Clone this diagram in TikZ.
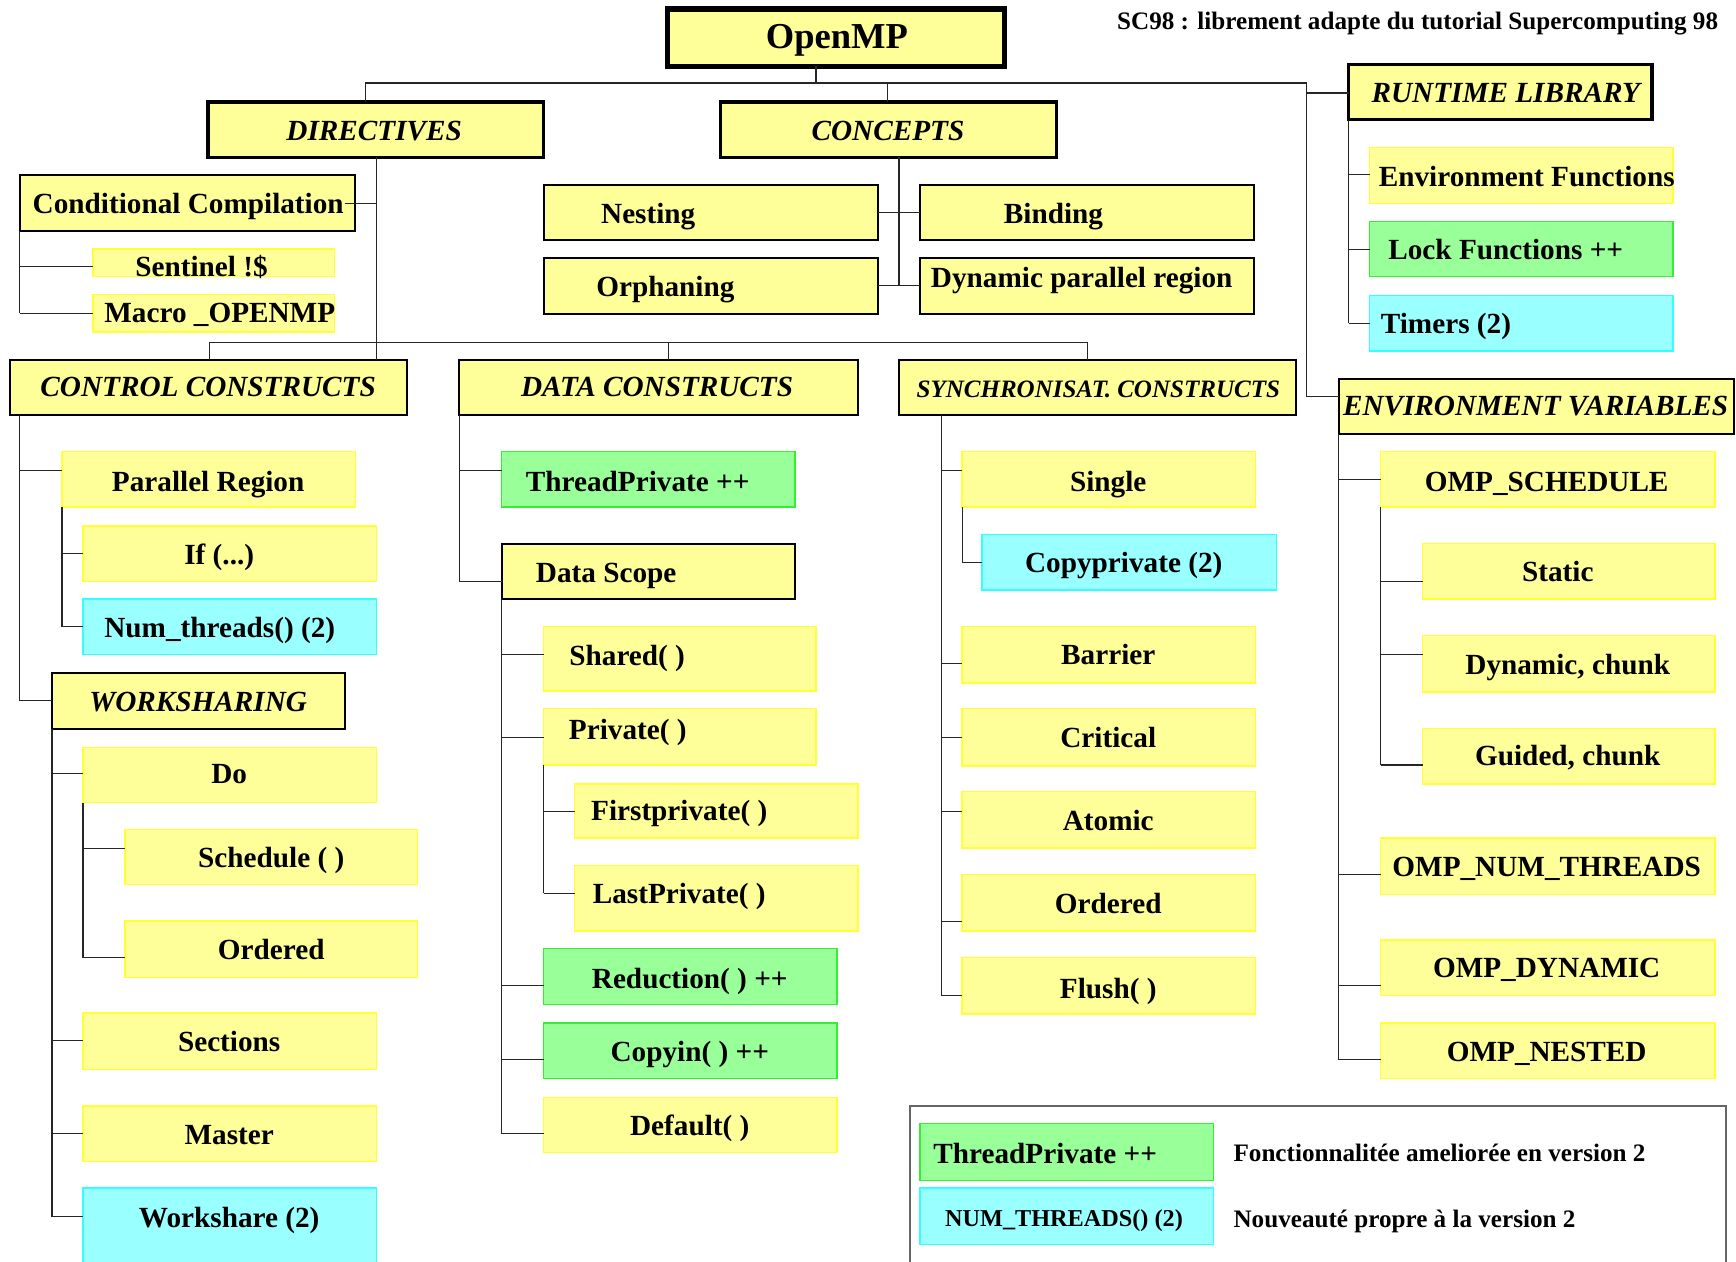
\documentclass[tikz,border=0pt]{standalone}
\usepackage{fontspec}
\setmainfont{Liberation Serif}

\definecolor{yfill}{HTML}{FFFF99}
\definecolor{yline}{HTML}{FFFF33}
\definecolor{gfill}{HTML}{99FF99}
\definecolor{gline}{HTML}{33EE33}
\definecolor{cfill}{HTML}{99FFFF}
\definecolor{cline}{HTML}{33FFFF}
\definecolor{frameline}{HTML}{666666}

% box: name, style, x1, y1, x2, y2
\newcommand\bx[6]{\node[#2, minimum width={(#5)-(#3)}, minimum height={(#6)-(#4)}] (#1) at ({((#3)+(#5))/2},{((#4)+(#6))/2}) {};}
% text: name, style, x, y, text
\newcommand\tx[5]{\node[#2] (#1) at (#3,#4) {#5};}
% vertical spine below a parent: x coordinate, parent node, bottom y
\newcommand\spine[3]{\draw[conn] (#1 |- #2.south) -- (#1 |- 0,#3);}
% horizontal branch from a spine to a child: x coordinate, child node, y
\newcommand\branch[3]{\draw[conn] (#1 |- 0,#3) -- (#2.west |- 0,#3);}

\begin{document}
\begin{tikzpicture}[x=1pt,y=-1pt,
  plain/.style={rectangle, inner sep=0pt, outer sep=0pt},
  ybox/.style={plain, fill=yfill, draw=yline, line width=1.2pt},
  gbox/.style={plain, fill=gfill, draw=gline, line width=1.2pt},
  cbox/.style={plain, fill=cfill, draw=cline, line width=1.2pt},
  bbox/.style={plain, fill=yfill, draw=black, line width=1.8pt},
  hbox/.style={plain, fill=yfill, draw=black, line width=3pt},
  topbox/.style={plain, fill=yfill, draw=black, line width=4.8pt},
  txt/.style={inner sep=0pt, font=\fontsize{26.4}{28}\selectfont\bfseries, text height=17pt, text depth=0pt},
  hd/.style={txt, font=\fontsize{26.4}{28}\selectfont\bfseries\itshape},
  hds/.style={inner sep=0pt, font=\fontsize{22.6}{24}\selectfont\bfseries\itshape, text height=14.6pt, text depth=0pt},
  ttl/.style={inner sep=0pt, font=\fontsize{33}{36}\selectfont\bfseries, text height=21.8pt, text depth=0pt},
  note/.style={inner sep=0pt, font=\fontsize{22.7}{24}\selectfont\bfseries, text height=14.7pt, text depth=0pt},
  small/.style={inner sep=0pt, font=\fontsize{21.9}{23}\selectfont\bfseries, text height=14.2pt, text depth=0pt},
  conn/.style={line width=1pt, draw=black!85},
]
\useasboundingbox[fill=white] (0,0) rectangle (1568,1139);

% ---------------- boxes ----------------
\bx{omp}{topbox}{603}{8}{907}{60}
\bx{dir}{hbox}{188}{92}{491}{142}
\bx{con}{hbox}{651}{92}{954}{142}
\bx{rtl}{hbox}{1218}{58}{1492}{108}

\bx{cc}{bbox}{18}{158}{321}{209}
\bx{sent}{ybox}{84}{225}{302}{250}
\bx{macro}{ybox}{84}{266}{302}{300}

\bx{nest}{bbox}{491}{167}{793}{217}
\bx{orph}{bbox}{491}{233}{793}{284}
\bx{bind}{bbox}{831}{167}{1133}{217}
\bx{dpr}{bbox}{831}{233}{1133}{284}

\bx{envf}{ybox}{1237}{133}{1511}{184}
\bx{lock}{gbox}{1237}{200}{1511}{250}
\bx{tim}{cbox}{1237}{267}{1511}{317}

\bx{ctl}{bbox}{9}{325}{368}{375}
\bx{dat}{bbox}{415}{325}{775}{375}
\bx{syn}{bbox}{812}{325}{1171}{375}
\bx{evar}{bbox}{1209}{342}{1566}{392}

% control constructs
\bx{par}{ybox}{56}{408}{321}{458}
\bx{if}{ybox}{75}{475}{340}{525}
\bx{numt}{cbox}{75}{541}{340}{591}
\bx{ws}{bbox}{47}{608}{312}{658}
\bx{do}{ybox}{75}{675}{340}{725}
\bx{sched}{ybox}{113}{749}{377}{799}
\bx{ordA}{ybox}{113}{832}{377}{883}
\bx{sect}{ybox}{75}{915}{340}{966}
\bx{mast}{ybox}{75}{999}{340}{1049}
\bx{wsh}{cbox}{75}{1073}{340}{1141}

% data constructs
\bx{tp}{gbox}{453}{408}{718}{458}
\bx{ds}{bbox}{453}{491}{718}{541}
\bx{shr}{ybox}{491}{566}{737}{624}
\bx{prv}{ybox}{491}{640}{737}{691}
\bx{fpr}{ybox}{519}{708}{775}{757}
\bx{lpr}{ybox}{519}{782}{775}{841}
\bx{red}{gbox}{491}{857}{756}{907}
\bx{cpy}{gbox}{491}{924}{756}{974}
\bx{dft}{ybox}{491}{991}{756}{1041}

% synchronisation constructs
\bx{sgl}{ybox}{869}{408}{1134}{458}
\bx{cpp}{cbox}{887}{483}{1153}{533}
\bx{bar}{ybox}{869}{566}{1134}{617}
\bx{crt}{ybox}{869}{640}{1134}{692}
\bx{atm}{ybox}{869}{715}{1134}{766}
\bx{ordB}{ybox}{869}{790}{1134}{841}
\bx{fls}{ybox}{869}{865}{1134}{916}

% environment variables
\bx{osch}{ybox}{1247}{408}{1549}{458}
\bx{stat}{ybox}{1285}{491}{1549}{541}
\bx{dync}{ybox}{1285}{574}{1549}{625}
\bx{guid}{ybox}{1285}{658}{1549}{708}
\bx{onum}{ybox}{1247}{757}{1549}{808}
\bx{odyn}{ybox}{1247}{849}{1549}{899}
\bx{onst}{ybox}{1247}{924}{1549}{974}

% legend
\draw[frameline, line width=1.3pt] (822,1141) -- (822,999) -- (1559,999) -- (1559,1141);
\bx{lgA}{gbox}{831}{1015}{1096}{1066}
\bx{lgB}{cbox}{831}{1073}{1096}{1124}

% ---------------- texts ----------------
\tx{t-omp}{ttl}{756}{33}{OpenMP}
\node[note, anchor=east] (t-src) at (1552,19) {SC98 : librement adapte du tutorial Supercomputing 98};
\tx{t-dir}{hd}{338}{118}{DIRECTIVES}
\tx{t-con}{hd}{802}{118}{CONCEPTS}
\tx{t-rtl}{hd}{1360}{84}{RUNTIME LIBRARY}

\tx{t-cc}{txt}{170}{184}{Conditional Compilation}
\tx{t-sent}{txt}{182}{241}{Sentinel !\$}
\tx{t-macro}{txt}{198.5}{283}{Macro \_OPENMP}

\tx{t-nest}{txt}{585.5}{193}{Nesting}
\tx{t-orph}{txt}{601}{259}{Orphaning}
\tx{t-bind}{txt}{951.5}{193}{Binding}
\tx{t-dpr}{txt}{977}{251}{Dynamic parallel region}

\tx{t-envf}{txt}{1379}{160}{Environment Functions}
\tx{t-lock}{txt}{1360}{226}{Lock Functions ++}
\tx{t-tim}{txt}{1306}{293}{Timers (2)}

\tx{t-ctl}{hd}{188}{350}{CONTROL CONSTRUCTS}
\tx{t-dat}{hd}{593.5}{350}{DATA CONSTRUCTS}
\tx{t-syn}{hds}{992}{352}{SYNCHRONISAT. CONSTRUCTS}
\tx{t-evar}{hd}{1387}{367}{ENVIRONMENT VARIABLES}

\tx{t-par}{txt}{188}{435}{Parallel Region}
\tx{t-if}{txt}{198}{501}{If (...)}
\tx{t-numt}{txt}{198.5}{567}{Num\_threads() (2)}
\tx{t-ws}{hd}{179}{634}{WORKSHARING}
\tx{t-do}{txt}{207}{699}{Do}
\tx{t-sched}{txt}{245}{775}{Schedule ( )}
\tx{t-ordA}{txt}{245}{858}{Ordered}
\tx{t-sect}{txt}{207}{941}{Sections}
\tx{t-mast}{txt}{207}{1025}{Master}
\tx{t-wsh}{txt}{207}{1100}{Workshare (2)}

\tx{t-tp}{txt}{576}{435}{ThreadPrivate ++}
\tx{t-ds}{txt}{547.5}{518}{Data Scope}
\tx{t-shr}{txt}{566.5}{593}{Shared( )}
\tx{t-prv}{txt}{567}{659}{Private( )}
\tx{t-fpr}{txt}{613.5}{733}{Firstprivate( )}
\tx{t-lpr}{txt}{613.5}{808}{LastPrivate( )}
\tx{t-red}{txt}{623}{884}{Reduction( ) ++}
\tx{t-cpy}{txt}{623}{950}{Copyin( ) ++}
\tx{t-dft}{txt}{623}{1017}{Default( )}

\tx{t-sgl}{txt}{1001}{435}{Single}
\tx{t-cpp}{txt}{1015}{509}{Copyprivate (2)}
\tx{t-bar}{txt}{1001}{592}{Barrier}
\tx{t-crt}{txt}{1001}{667}{Critical}
\tx{t-atm}{txt}{1001}{742}{Atomic}
\tx{t-ordB}{txt}{1001}{817}{Ordered}
\tx{t-fls}{txt}{1001}{893}{Flush( )}

\tx{t-osch}{txt}{1397}{435}{OMP\_SCHEDULE}
\tx{t-stat}{txt}{1407}{517}{Static}
\tx{t-dync}{txt}{1416}{601}{Dynamic, chunk}
\tx{t-guid}{txt}{1416}{683}{Guided, chunk}
\tx{t-onum}{txt}{1397}{783}{OMP\_NUM\_THREADS}
\tx{t-odyn}{txt}{1397}{874}{OMP\_DYNAMIC}
\tx{t-onst}{txt}{1397}{950}{OMP\_NESTED}

\tx{t-lgA}{txt}{944}{1042}{ThreadPrivate ++}
\tx{t-lgB}{small}{961}{1101}{NUM\_THREADS() (2)}
\node[note, anchor=west] (t-lgA2) at (1114,1042) {Fonctionnalitée ameliorée en version 2};
\node[note, anchor=west] (t-lgB2) at (1114,1101) {Nouveauté propre à la version 2};

% ---------------- connectors ----------------
% top level
\coordinate (j-top) at (737,75);
\coordinate (j-dir) at (330,75);
\coordinate (j-con) at (802,75);
\coordinate (j-rt) at (1180,75);
\draw[conn] (omp.south -| j-top) -- (j-top);
\draw[conn] (j-dir |- dir.north) -- (j-dir) -- (j-rt) |- (evar.west |- 0,358);
\draw[conn] (j-con) -- (j-con |- con.north);
\draw[conn] (j-rt |- 0,84) -- (rtl.west |- 0,84);

% directives
\coordinate (s-dir) at (340,0);
\draw[conn] (s-dir |- dir.south) -- (s-dir |- ctl.north);
\draw[conn] ([xshift=-9pt]cc.east) -- (s-dir |- cc.east);
\coordinate (b-l) at (189,309);
\coordinate (b-m) at (604,309);
\coordinate (b-r) at (982,309);
\draw[conn] (b-l |- ctl.north) -- (b-l) -- (b-r) -- (b-r |- syn.north);
\draw[conn] (b-m) -- (b-m |- dat.north);

\coordinate (s-cc) at (18,0);
\spine{s-cc}{cc}{283}
\branch{s-cc}{sent}{241}
\branch{s-cc}{macro}{283}

% concepts
\coordinate (s-con) at (812,0);
\spine{s-con}{con}{258}
\draw[conn] (nest.east |- 0,192) -- (bind.west |- 0,192);
\draw[conn] (orph.east |- 0,258) -- (dpr.west |- 0,258);

% runtime library
\coordinate (s-rtl) at (1218,0);
\spine{s-rtl}{rtl}{292}
\branch{s-rtl}{envf}{158}
\branch{s-rtl}{lock}{225}
\branch{s-rtl}{tim}{292}

% control constructs
\coordinate (s-ctl) at (18,0);
\spine{s-ctl}{ctl}{633}
\branch{s-ctl}{par}{425}
\branch{s-ctl}{ws}{633}
\coordinate (s-par) at (56,0);
\spine{s-par}{par}{566}
\branch{s-par}{if}{500}
\branch{s-par}{numt}{566}
\coordinate (s-ws) at (47,0);
\spine{s-ws}{ws}{1099}
\branch{s-ws}{do}{699}
\branch{s-ws}{sect}{940}
\branch{s-ws}{mast}{1024}
\branch{s-ws}{wsh}{1099}
\coordinate (s-do) at (75,0);
\spine{s-do}{do}{865}
\branch{s-do}{sched}{766}
\branch{s-do}{ordA}{865}

% data constructs
\coordinate (s-dat) at (415,0);
\spine{s-dat}{dat}{525}
\branch{s-dat}{tp}{425}
\branch{s-dat}{ds}{525}
\coordinate (s-ds) at (453,0);
\spine{s-ds}{ds}{1024}
\branch{s-ds}{shr}{591}
\branch{s-ds}{prv}{666}
\branch{s-ds}{red}{890}
\branch{s-ds}{cpy}{957}
\branch{s-ds}{dft}{1024}
\coordinate (s-prv) at (491,0);
\spine{s-prv}{prv}{807}
\branch{s-prv}{fpr}{733}
\branch{s-prv}{lpr}{807}

% synchronisation constructs
\coordinate (s-syn) at (850,0);
\spine{s-syn}{syn}{899}
\branch{s-syn}{sgl}{425}
\branch{s-syn}{bar}{599}
\branch{s-syn}{crt}{666}
\branch{s-syn}{atm}{733}
\branch{s-syn}{ordB}{832}
\branch{s-syn}{fls}{899}
\coordinate (s-sgl) at (869,0);
\spine{s-sgl}{sgl}{508}
\branch{s-sgl}{cpp}{508}

% environment variables
\coordinate (s-ev) at (1209,0);
\spine{s-ev}{evar}{957}
\branch{s-ev}{osch}{433}
\branch{s-ev}{onum}{790}
\branch{s-ev}{odyn}{890}
\branch{s-ev}{onst}{957}
\coordinate (s-os) at (1247,0);
\spine{s-os}{osch}{691}
\branch{s-os}{stat}{525}
\branch{s-os}{dync}{591}
\branch{s-os}{guid}{691}
\end{tikzpicture}
\end{document}
